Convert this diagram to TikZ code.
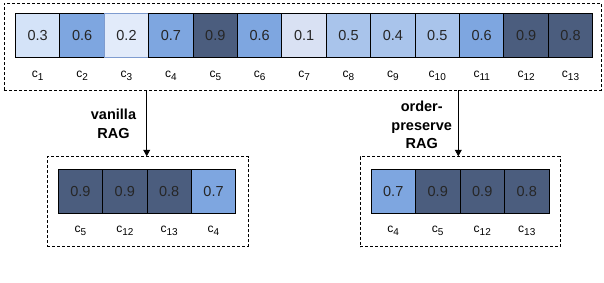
\documentclass[tikz,border=0pt]{standalone}
\usepackage{fontspec}
\setmainfont{Liberation Sans}
\usetikzlibrary{arrows.meta}
\definecolor{cdark}{HTML}{4B5D7E}
\definecolor{cmid}{HTML}{7EA6E0}
\definecolor{clight}{HTML}{A9C4EB}
\definecolor{cthree}{HTML}{D4E3F8}
\definecolor{ctwo}{HTML}{E2EBFA}
\definecolor{ctwoline}{HTML}{7F9CCF}
\definecolor{cone}{HTML}{D9E1F3}
\tikzset{
  cellbox/.style={draw=black, line width=0.9bp, minimum width=44.4bp, minimum height=43.5bp, inner sep=0pt, font=\fontsize{14.5bp}{16bp}\selectfont, text=black!85},
  clabel/.style={inner sep=0pt, font=\fontsize{12bp}{14bp}\selectfont},
  dashbox/.style={draw=black, line width=0.9bp, dash pattern=on 3bp off 2bp, inner sep=0pt},
  steplabel/.style={align=center, font=\bfseries\fontsize{14.5bp}{18.6bp}\selectfont, inner sep=0pt},
  arr/.style={-{Triangle[length=6.5bp,width=7bp]}, line width=0.8bp, black}
}
\newcommand{\cc}[1]{c\raisebox{-0.45ex}{\fontsize{10bp}{11bp}\selectfont #1}}
\begin{document}
\begin{tikzpicture}[x=1bp,y=-1bp]
\useasboundingbox (0,0) rectangle (604,282);
% top row
\node[dashbox, minimum width=597bp, minimum height=87bp] (top) at (302.5,46.5) {};
\foreach \i/\v/\f/\d in {1/0.3/cthree/black, 2/0.6/cmid/black, 3/0.2/ctwo/ctwoline, 4/0.7/cmid/black, 5/0.9/cdark/black, 6/0.6/cmid/black, 7/0.1/cone/black, 8/0.5/clight/black, 9/0.4/clight/black, 10/0.5/clight/black, 11/0.6/cmid/black, 12/0.9/cdark/black, 13/0.8/cdark/black} {
  \node[cellbox, fill=\f, draw=\d] (t\i) at ({15.5+44.4*(\i-0.5)},35.5) {\v};
  \node[clabel] (tl\i) at ({15.5+44.4*(\i-0.5)},76) {\cc{\i}};
}
% bottom left
\node[dashbox, minimum width=200.7bp, minimum height=90bp] (bl) at (147.65,201.7) {};
\foreach \i/\v/\f/\n in {1/0.9/cdark/5, 2/0.9/cdark/12, 3/0.8/cdark/13, 4/0.7/cmid/4} {
  \node[cellbox, fill=\f] (l\i) at ({58.3+44.35*(\i-0.5)},191.2) {\v};
  \node[clabel] (ll\i) at ({58.3+44.35*(\i-0.5)},230.5) {\cc{\n}};
}
% bottom right
\node[dashbox, minimum width=200bp, minimum height=90bp] (br) at (460,201.7) {};
\foreach \i/\v/\f/\n in {1/0.7/cmid/4, 2/0.9/cdark/5, 3/0.9/cdark/12, 4/0.8/cdark/13} {
  \node[cellbox, fill=\f] (r\i) at ({371+44.5*(\i-0.5)},191.6) {\v};
  \node[clabel] (rl\i) at ({371+44.5*(\i-0.5)},231) {\cc{\n}};
}
% arrows
\coordinate (ls) at (146.7,0);
\coordinate (rs) at (458.3,0);
\draw[arr] (top.south -| ls) -- (bl.north -| ls);
\draw[arr] (top.south -| rs) -- (br.north -| rs);
\node[steplabel] (vl) at (113.5,124) {vanilla\\RAG};
\node[steplabel] (ol) at (421.7,125) {order-\\preserve\\RAG};
\end{tikzpicture}
\end{document}
